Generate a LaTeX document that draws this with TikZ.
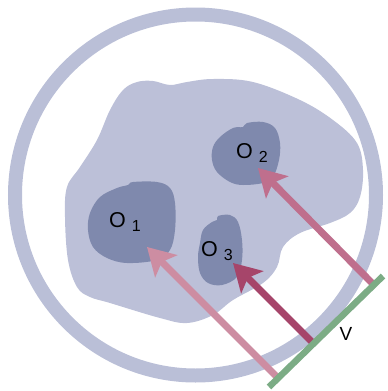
\documentclass[tikz,border=0pt]{standalone}
\usepackage{fontspec}
\setmainfont{Liberation Sans}
\usepackage{tikz}
\usetikzlibrary{arrows.meta,calc}
\usepackage{xcolor}
\definecolor{RingBlue}{HTML}{BABFD7}
\definecolor{CellBlue}{HTML}{BCC0D8}
\definecolor{OrgBlue}{HTML}{7F89AD}
\definecolor{PinkA}{HTML}{CD8DA2}
\definecolor{PinkB}{HTML}{BF6F8D}
\definecolor{PinkC}{HTML}{A6456A}
\definecolor{PlateGreen}{HTML}{7CAC85}
\tikzset{
  ring/.style={draw=RingBlue, line width=14pt},
  cell/.style={fill=CellBlue, draw=none},
  organ/.style={fill=OrgBlue, draw=none},
  plate/.style={draw=PlateGreen, line width=6.5pt},
  ray/.style={-{Stealth[length=27pt, width=31pt, inset=6pt]}, line width=7pt},
  olabel/.style={anchor=base west, inner sep=0pt, font=\fontsize{21.5}{24}\selectfont}
}
\newcommand{\sublow}[1]{\raisebox{-4.5pt}{\fontsize{16}{18}\selectfont #1}}

\begin{document}
\begin{tikzpicture}[x=1pt, y=-1pt]
\useasboundingbox (0,0) rectangle (388,391);
% outer ring
\draw[ring] (195.5,195) circle[radius=180.5];
% body
\fill[cell] plot[smooth cycle, tension=0.6] coordinates {
  (137,82) (153,81) (170,85) (187,82) (213,79) (253,82) (300,100) (333,120)
  (357,143) (363,170) (360,197) (350,213) (330,223) (300,233) (283,247)
  (277,267) (263,283) (233,300) (213,315) (187,323) (160,318) (110,303)
  (90,297) (77,287) (68,260) (65,217) (67,187) (80,167) (97,140) (110,110) (123,90)};
% organelles
\fill[organ] plot[smooth cycle, tension=0.6] coordinates {
  (90,213) (100,197) (117,188) (128,185) (133,182) (157,182) (170,188) (175,203)
  (175,230) (170,250) (157,260) (127,263) (107,258) (93,247) (88,230)};
\fill[organ] plot[smooth cycle, tension=0.6] coordinates {
  (213,147) (220,137) (233,128) (243,127) (247,123) (263,122) (275,128) (280,143)
  (279,160) (273,177) (263,183) (243,185) (230,182) (217,172) (212,160)};
\fill[organ] plot[smooth cycle, tension=0.6] coordinates {
  (200,243) (203,230) (212,222) (217,220) (218,216) (230,215) (238,222) (242,240)
  (242,260) (237,277) (222,285) (208,283) (200,273) (198,257)};
\node[olabel] (o1) at (109,227) {O \sublow{1}};
\node[olabel] (o2) at (236,158) {O \sublow{2}};
\node[olabel] (o3) at (201,256) {O \sublow{3}};
% view plate
\coordinate (pa) at (383,276);
\coordinate (pb) at (269,387);
\coordinate (s1) at (277,377);
\coordinate (s2) at (372,283);
\coordinate (s3) at (312,342);
\coordinate (t1) at (147,247);
\coordinate (t2) at (258,168);
\coordinate (t3) at (233,263);
\draw[ray, draw=PinkA, fill=PinkA] (s1) -- (t1);
\draw[ray, draw=PinkB, fill=PinkB] (s2) -- (t2);
\draw[ray, draw=PinkC, fill=PinkC] (s3) -- (t3);
\draw[plate] (pa) -- (pb);
\node[olabel, anchor=center, font=\fontsize{19}{22}\selectfont] (v) at (346,334) {V};
\end{tikzpicture}
\end{document}
